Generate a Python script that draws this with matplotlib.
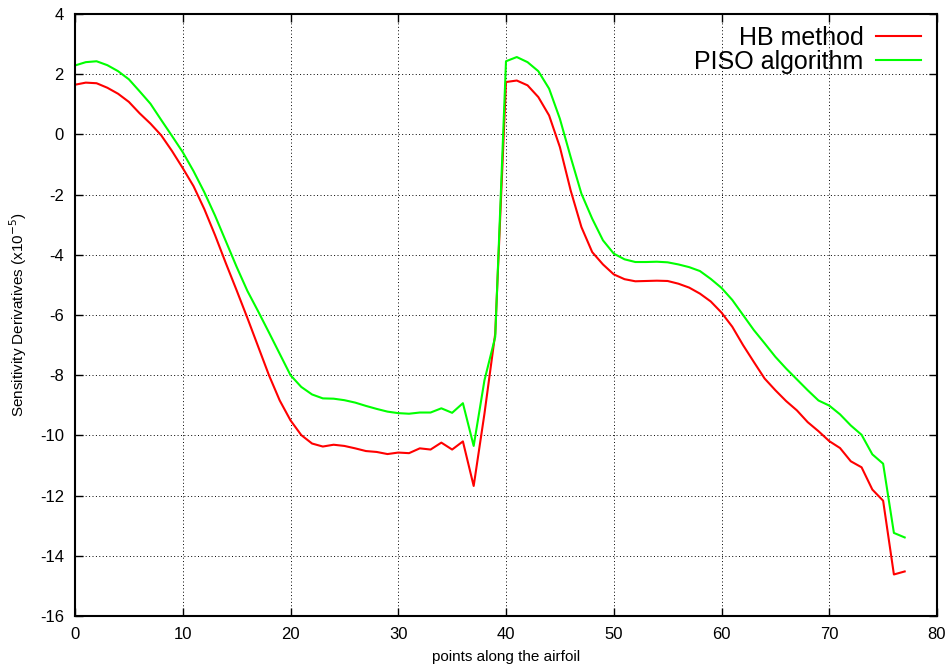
import numpy as np
import matplotlib.pyplot as plt

plt.rcParams['font.family'] = ['Liberation Sans', 'DejaVu Sans']
plt.rcParams['axes.unicode_minus'] = False

# data (units of 1e-5)
points = np.arange(0, 78)

hb_method = [
    1.65, 1.72, 1.70, 1.55, 1.35, 1.08, 0.70, 0.36, -0.03, -0.55,
    -1.12, -1.72, -2.48, -3.35, -4.28, -5.18, -6.10, -7.05, -8.00, -8.84,
    -9.50, -9.99, -10.27, -10.37, -10.31, -10.35, -10.43, -10.52, -10.55, -10.62,
    -10.57, -10.59, -10.43, -10.47, -10.24, -10.47, -10.20, -11.68, -9.28, -6.62,
    1.74, 1.79, 1.63, 1.24, 0.63, -0.42, -1.86, -3.08, -3.91, -4.32,
    -4.65, -4.81, -4.88, -4.87, -4.86, -4.87, -4.96, -5.09, -5.29, -5.55,
    -5.92, -6.39, -7.00, -7.56, -8.11, -8.50, -8.86, -9.17, -9.56, -9.86,
    -10.19, -10.42, -10.86, -11.06, -11.80, -12.17, -14.62, -14.52,
]

piso_algorithm = [
    2.29, 2.40, 2.43, 2.30, 2.10, 1.83, 1.43, 1.02, 0.48, -0.05,
    -0.59, -1.22, -1.92, -2.70, -3.55, -4.40, -5.20, -5.88, -6.58, -7.29,
    -8.00, -8.39, -8.64, -8.77, -8.78, -8.83, -8.91, -9.02, -9.12, -9.21,
    -9.26, -9.28, -9.24, -9.24, -9.10, -9.25, -8.93, -10.35, -8.17, -6.73,
    2.43, 2.57, 2.40, 2.10, 1.52, 0.52, -0.75, -1.97, -2.80, -3.52,
    -3.96, -4.15, -4.24, -4.24, -4.23, -4.25, -4.32, -4.41, -4.54, -4.80,
    -5.10, -5.50, -6.00, -6.50, -6.94, -7.39, -7.78, -8.14, -8.50, -8.84,
    -9.01, -9.30, -9.67, -9.98, -10.63, -10.94, -13.24, -13.39,
]

fig = plt.figure(figsize=(9.49, 6.66), dpi=100)
ax = fig.add_axes([75 / 949, 50 / 666, 862 / 949, 602 / 666])

ax.plot(points, hb_method, color='#ff0000', lw=1.5, label='HB method')
ax.plot(points, piso_algorithm, color='#00ff00', lw=1.5, label='PISO algorithm')

ax.set_xlim(0, 80)
ax.set_ylim(-16, 4)
ax.set_xticks(np.arange(0, 81, 10))
ax.set_yticks(np.arange(-16, 5, 2))
ax.grid(True, color='black', linestyle=(0, (1, 2.5)), linewidth=0.7)
ax.tick_params(direction='in', top=True, right=True, length=6, width=1,
               labelsize=12, pad=8)
for s in ax.spines.values():
    s.set_linewidth(1.5)

ax.set_xlabel('points along the airfoil', fontsize=11, labelpad=6)
ax.set_ylabel('Sensitivity Derivatives (x10$^{-5}$)', fontsize=11, labelpad=8)

ax.legend(loc='upper right', bbox_to_anchor=(0.99, 0.993), frameon=False,
          markerfirst=False, fontsize=18, handlelength=1.8, handletextpad=0.5,
          labelspacing=0.0, borderaxespad=0.2, borderpad=0.1)

fig.savefig('out.png', dpi=100)
